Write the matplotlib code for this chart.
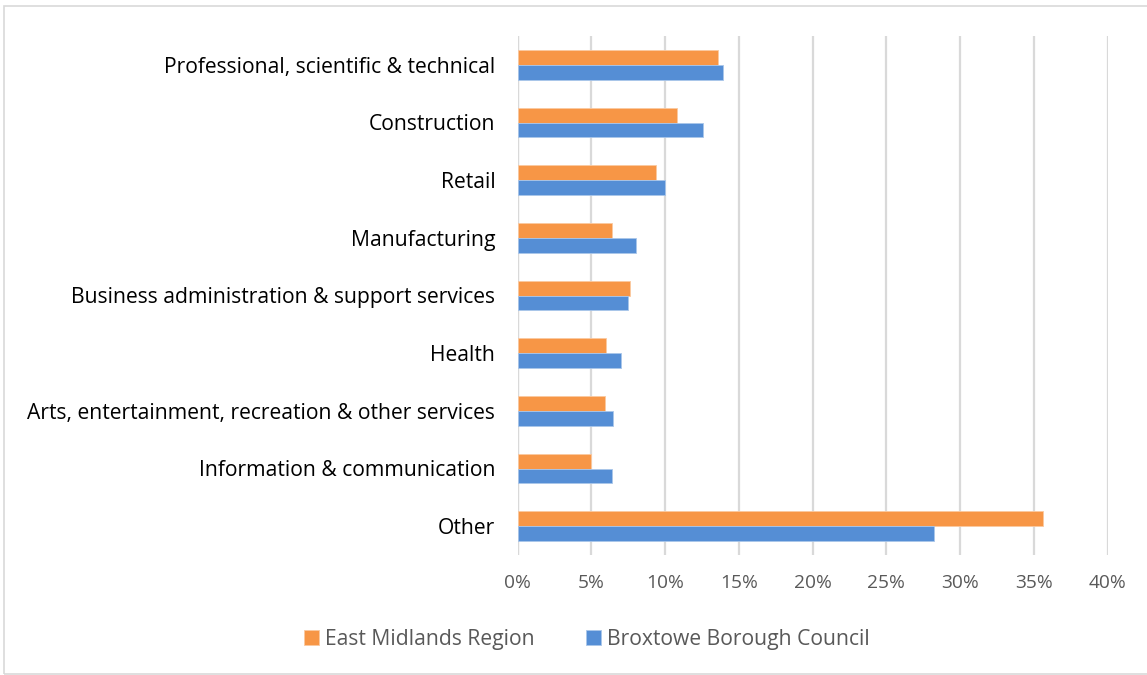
import matplotlib
matplotlib.use("Agg")
import matplotlib.pyplot as plt
import numpy as np
from matplotlib.patches import Rectangle

categories = ["Professional, scientific & technical", "Construction", "Retail",
              "Manufacturing", "Business administration & support services",
              "Health", "Arts, entertainment, recreation & other services",
              "Information & communication", "Other"]
east_midlands = [13.6, 10.8, 9.4, 6.4, 7.6, 6.0, 5.9, 5.0, 35.6]
broxtowe = [13.9, 12.6, 10.0, 8.0, 7.5, 7.0, 6.5, 6.4, 28.25]
xticks = [0, 5, 10, 15, 20, 25, 30, 35, 40]
series_names = ["East Midlands Region", "Broxtowe Borough Council"]

plt.rcParams['font.family'] = ['Open Sans', 'DejaVu Sans']

W, H = 1147, 675
fig = plt.figure(figsize=(W/100, H/100), dpi=100)
ax = fig.add_axes([517.5/W, 1-555/H, (1107.5-517.5)/W, (555-36)/H])

y = np.arange(len(categories))
h = 0.26
orange = "#F79646"
blue = "#558ED5"
ax.barh(y - h/2, east_midlands, height=h, color=orange, edgecolor="#FBC9A0", linewidth=0.6, label=series_names[0], zorder=3)
ax.barh(y + h/2, broxtowe, height=h, color=blue, edgecolor="#A9C6EA", linewidth=0.6, label=series_names[1], zorder=3)

ax.set_ylim(len(categories) - 0.5, -0.5)
ax.set_xlim(0, 40)
ax.set_xticks(xticks)
ax.set_xticklabels([f"{t}%" for t in xticks])
ax.set_yticks(y)
ax.set_yticklabels(categories)
ax.grid(axis='x', color="#D9D9D9", linewidth=1.6, zorder=0)
for s in ax.spines.values():
    s.set_visible(False)
ax.axvline(0, color="#D9D9D9", linewidth=1.6, zorder=1)
ax.tick_params(axis='both', length=0)
ax.tick_params(axis='x', labelsize=13.8, labelcolor="#595959", pad=14)
ax.tick_params(axis='y', labelsize=15.2, labelcolor="#000000", pad=16)

handles, labels = ax.get_legend_handles_labels()
leg = fig.legend(handles, labels, loc='center', bbox_to_anchor=(587/W, 1-639/H), ncol=2,
                 frameon=False, fontsize=15.2, handlelength=0.7, handleheight=0.7,
                 handletextpad=0.3, columnspacing=2.4)
for t in leg.get_texts():
    t.set_color("#595959")

fig.patches.append(Rectangle((4/W, 0.002), 1.2, 1-6/H - 0.002, transform=fig.transFigure,
                             fill=False, edgecolor="#D9D9D9", linewidth=1.2))

fig.savefig("out.png", dpi=100)
